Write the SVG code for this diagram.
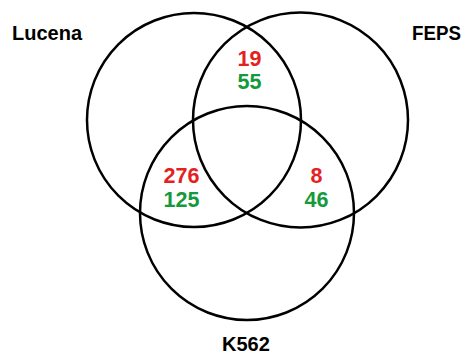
<svg xmlns="http://www.w3.org/2000/svg" width="463" height="356" viewBox="0 0 463 356">
<style>
.c{fill:none;stroke:#000;stroke-width:2.5}
.l{font-family:"Liberation Sans",Arial,sans-serif;font-weight:bold;font-size:20px;fill:#000}
.n{font-family:"Liberation Sans",Arial,sans-serif;font-weight:bold;font-size:21.5px;text-anchor:middle}
.r{fill:#e3211f}
.g{fill:#15993d}
</style>
<rect width="463" height="356" fill="#fff"/>
<g id="lucena">
<circle class="c" cx="194" cy="120" r="107"/>
<text class="l" x="12" y="40">Lucena</text>
</g>
<g id="feps">
<circle class="c" cx="300.5" cy="120" r="107.5"/>
<text class="l" x="412" y="40" textLength="49" lengthAdjust="spacingAndGlyphs">FEPS</text>
</g>
<g id="k562">
<circle class="c" cx="247" cy="213" r="107"/>
<text class="l" x="222" y="351">K562</text>
</g>
<g id="counts">
<text class="n r" x="249.5" y="66">19</text>
<text class="n g" x="249.5" y="89">55</text>
<text class="n r" x="181.5" y="183">276</text>
<text class="n g" x="181.5" y="207">125</text>
<text class="n r" x="316.5" y="183">8</text>
<text class="n g" x="316.5" y="207">46</text>
</g>
<g id="connectors"/>
</svg>
